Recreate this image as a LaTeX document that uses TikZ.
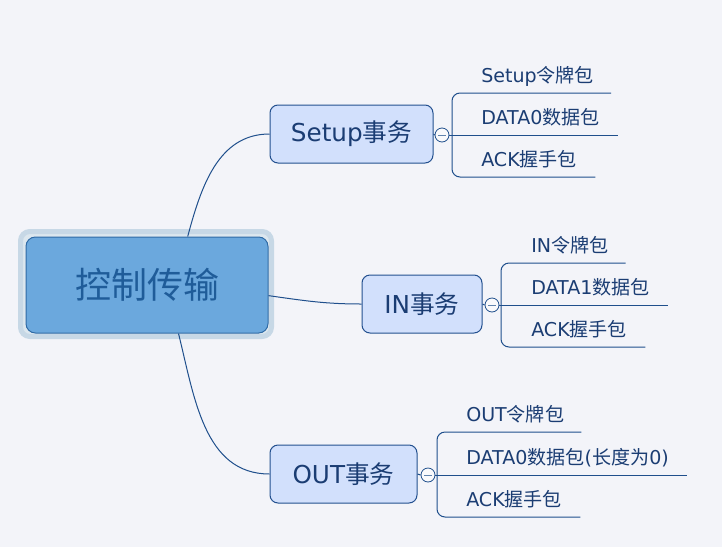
\documentclass[tikz,border=0pt]{standalone}
\usepackage{fontspec}
\setmainfont{Noto Sans CJK SC}
\newfontfamily\lat{DejaVu Sans}
\usepackage{tikz}
\usetikzlibrary{positioning,calc}
\definecolor{bgcol}{HTML}{F3F4F9}
\definecolor{rootfill}{HTML}{6BA8DD}
\definecolor{rootline}{HTML}{2F6AA5}
\definecolor{roottext}{HTML}{1F5C99}
\definecolor{haloout}{HTML}{C7D8E6}
\definecolor{haloin}{HTML}{DCE7EF}
\definecolor{subfill}{HTML}{D2E0FC}
\definecolor{subline}{HTML}{23508F}
\definecolor{subtext}{HTML}{1B3D73}
\definecolor{linecol}{HTML}{1F4F8C}

\begin{document}
\begin{tikzpicture}
           [x=0.75pt,y=-0.75pt,
            root/.style = {draw=rootline,fill=rootfill,rounded corners=7pt,line width=0.75pt,
                           minimum width=181.5pt,minimum height=72pt,text=roottext,
                           font=\fontsize{27}{30}\selectfont},
            trans/.style = {draw=subline,fill=subfill,rounded corners=6pt,line width=0.75pt,
                            minimum height=43.5pt,text=subtext,
                            font=\fontsize{18.5}{22}\selectfont},
            fold/.style = {circle,draw=linecol,fill=white!55!bgcol,minimum size=10.5pt,
                           inner sep=0pt,line width=0.6pt,
                           path picture={\draw[linecol!70,line width=0.6pt]
                             ([xshift=-3pt]path picture bounding box.center) --
                             ([xshift=3pt]path picture bounding box.center);}},
            leaf/.style = {anchor=south west,inner xsep=0pt,inner ysep=0pt,
                           text height=10pt,text depth=7.5pt,text=subtext,
                           font=\fontsize{14.3}{16}\selectfont},
            branch/.style = {draw=linecol,line width=0.75pt}]
            \fill[bgcol] (0,0) rectangle (722,547);
            \path[fill=haloin,draw=haloout,line width=3.75pt,rounded corners=7pt]
                (20.5,231.5) rectangle (271.5,336.5);

            \node[root] (ctrl) at (147,285) {控制传输};
            \node[trans,minimum width=122.25pt] (setup) at (351.5,134) {{\lat Setup}事务};
            \node[trans,minimum width=90pt] (in) at (422,304) {{\lat IN}事务};
            \node[trans,minimum width=110.25pt] (out) at (343.5,474) {{\lat OUT}事务};

            \node[fold] (fs) at (442,135) {};
            \node[fold] (fi) at (492,305) {};
            \node[fold] (fo) at (428,475) {};

            \coordinate (ss) at (452,135);
            \coordinate (si) at (501,305);
            \coordinate (so) at (437,475);

            \node[leaf] (s1) at (481,93) {{\lat Setup}令牌包};
            \node[leaf] (s2) at (481,135) {{\lat DATA0}数据包};
            \node[leaf] (s3) at (481,177) {{\lat ACK}握手包};
            \node[leaf] (i1) at (531,263) {{\lat IN}令牌包};
            \node[leaf] (i2) at (531,305) {{\lat DATA1}数据包};
            \node[leaf] (i3) at (531,347) {{\lat ACK}握手包};
            \node[leaf] (o1) at (466,432) {{\lat OUT}令牌包};
            \node[leaf] (o2) at (466,475) {{\lat DATA0}数据包{\lat (}长度为{\lat 0)}};
            \node[leaf] (o3) at (466,517) {{\lat ACK}握手包};

            \path[branch] (ctrl.50) edge[out=75,in=180] (setup.west);
            \path[branch] (ctrl.-5) edge[out=-8,in=180] (in.west);
            \path[branch] (ctrl.-57) edge[out=-76,in=180] (out.west);

            \path[branch] (setup.east) edge (fs.west);
            \path[branch] (in.east) edge (fi.west);
            \path[branch] (out.east) edge (fo.west);

            \draw[branch,rounded corners=6pt] ($(s1.south east)+(17,0)$) -| (ss) |- ($(s3.south east)+(18,0)$);
            \draw[branch] (fs.east) -- ($(s2.south east)+(18,0)$);
            \draw[branch,rounded corners=6pt] ($(i1.south east)+(17,0)$) -| (si) |- ($(i3.south east)+(18,0)$);
            \draw[branch] (fi.east) -- ($(i2.south east)+(18,0)$);
            \draw[branch,rounded corners=6pt] ($(o1.south east)+(17,0)$) -| (so) |- ($(o3.south east)+(18,0)$);
            \draw[branch] (fo.east) -- ($(o2.south east)+(18,0)$);
        \end{tikzpicture}
\end{document}
